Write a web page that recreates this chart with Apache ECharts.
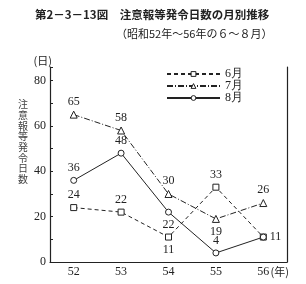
<!DOCTYPE html>
<html>
<head>
<meta charset="utf-8">
<script src="https://cdn.jsdelivr.net/npm/echarts@6/dist/echarts.min.js"></script>
<style>
  html, body { margin: 0; padding: 0; background: #fff; }
  #main { width: 306px; height: 284px; }
</style>
</head>
<body>
<div id="main"></div>
<script>
var years = ['52', '53', '54', '55', '56'];
var june = [24, 22, 11, 33, 11];
var july = [65, 58, 30, 19, 26];
var august = [36, 48, 22, 4, 11];
// ラベル位置
var junePos = ['top', 'top', 'bottom', 'top', 'right'];
var julyPos = ['top', 'top', 'top', 'bottom', 'top'];
var augustPos = ['top', 'top', 'bottom', 'top', 'top'];

var serif = 'Liberation Serif';
var jp = 'Noto Sans CJK JP';
var ink = '#222';

function items(vals, pos) {
  return vals.map(function (v, i) {
    return { value: v, label: { position: pos[i] } };
  });
}

function makeSeries(name, vals, pos, symbol, type, hideLast) {
  var data = items(vals, pos);
  if (hideLast) data[data.length - 1].label.show = false;
  return {
    name: name,
    type: 'line',
    data: data,
    symbol: symbol,
    symbolSize: symbol === 'triangle' ? 7 : 6,
    showAllSymbol: true,
    lineStyle: { color: ink, width: 1, type: type },
    itemStyle: { color: '#fff', borderColor: ink, borderWidth: 1 },
    label: {
      show: true,
      distance: 3,
      color: ink,
      fontFamily: serif,
      fontSize: 12
    },
    emphasis: { disabled: true }
  };
}

var chart = echarts.init(document.getElementById('main'));
var option = {
  animation: false,
  title: [
    {
      text: '第2－3－13図　注意報等発令日数の月別推移',
      left: 35, top: 9, padding: 0,
      textStyle: { fontFamily: jp, fontSize: 11.5, fontWeight: 'bold', color: ink }
    },
    {
      text: '（昭和52年～56年の６～８月）',
      left: 116, top: 28, padding: 0,
      textStyle: { fontFamily: jp, fontSize: 11, fontWeight: 'normal', color: ink }
    },
    {
      text: '注\n意\n報\n等\n発\n令\n日\n数',
      left: 18, top: 99, padding: 0,
      textStyle: { fontFamily: jp, fontSize: 10, lineHeight: 10.7, fontWeight: 'normal', color: '#444' }
    }
  ],
  legend: {
    orient: 'vertical',
    left: 166, top: 68, padding: 0,
    itemWidth: 53, itemHeight: 6, itemGap: 0,
    itemStyle: { color: '#fff', borderColor: ink, borderWidth: 1 },
    textStyle: { fontFamily: serif, fontSize: 12, lineHeight: 12, color: ink },
    data: ['6月', '7月', '8月']
  },
  grid: { left: 50, right: 19, top: 67, bottom: 22 },
  xAxis: {
    type: 'category',
    data: years,
    boundaryGap: true,
    name: '(年)',
    nameLocation: 'end',
    nameGap: 0,
    nameMoveOverlap: false,
    nameTextStyle: {
      fontFamily: jp, fontSize: 11, color: ink,
      align: 'right', verticalAlign: 'top', padding: [4, -2, 0, 0]
    },
    axisLine: { lineStyle: { color: ink, width: 1.2 } },
    axisTick: { inside: true, alignWithLabel: true, length: 3, lineStyle: { color: ink } },
    axisLabel: { fontFamily: serif, fontSize: 12, color: ink, margin: 4 }
  },
  yAxis: [
    {
      type: 'value',
      min: 0, max: 86, interval: 20,
      name: '(日)',
      nameLocation: 'end',
      nameGap: 1,
      nameTextStyle: { fontFamily: jp, fontSize: 11, color: ink, align: 'right', padding: [0, -2, 0, 0] },
      splitLine: { show: false },
      axisLine: { show: true, lineStyle: { color: ink, width: 1.2 } },
      axisTick: { show: true, inside: true, length: 3, lineStyle: { color: ink } },
      minorTick: { show: true, splitNumber: 2, length: 3, lineStyle: { color: ink } },
      axisLabel: {
        fontFamily: serif, fontSize: 12, color: ink, margin: 4,
        formatter: function (v) { return v % 20 === 0 ? v : ''; }
      }
    },
    {
      type: 'value',
      position: 'right',
      min: 0, max: 87,
      splitLine: { show: false },
      axisLine: { show: true, lineStyle: { color: ink, width: 1.2 } },
      axisTick: { show: false },
      axisLabel: { show: false }
    }
  ],
  series: [
    makeSeries('6月', june, junePos, 'rect', [4, 3]),
    makeSeries('7月', july, julyPos, 'triangle', [6, 2, 1, 2]),
    makeSeries('8月', august, augustPos, 'circle', 'solid', true)
  ]
};
chart.setOption(option);
</script>
</body>
</html>
